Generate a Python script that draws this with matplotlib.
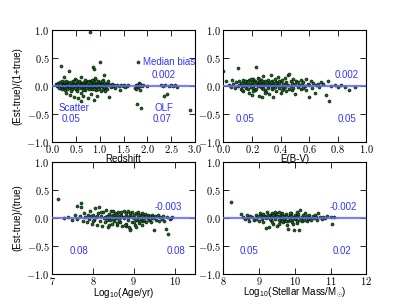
import matplotlib
matplotlib.use("Agg")
import matplotlib.pyplot as plt
from matplotlib.ticker import FuncFormatter, MultipleLocator

plt.rcParams['mathtext.fontset'] = 'cm'
plt.rcParams['font.family'] = ['Liberation Sans', 'DejaVu Sans']

redshift_points = [(0.08,0.03),(0.1,-0.01),(0.12,0.05),(0.13,0.0),(0.15,0.02),(0.16,-0.03),(0.17,0.06),(0.18,0.36),(0.19,0.01),(0.2,-0.05),(0.21,0.04),(0.22,0.0),(0.23,0.07),(0.24,-0.02),(0.25,0.15),(0.26,0.03),(0.27,-0.08),(0.28,0.05),(0.29,0.01),(0.3,-0.12),(0.31,0.04),(0.32,-0.03),(0.33,0.06),(0.34,0.0),(0.35,0.26),(0.36,-0.04),(0.37,0.02),(0.38,-0.16),(0.39,0.05),(0.4,-0.01),(0.41,0.03),(0.42,-0.06),(0.43,0.08),(0.44,0.0),(0.45,-0.2),(0.46,0.04),(0.47,-0.02),(0.48,0.12),(0.49,0.01),(0.5,-0.05),(0.51,0.03),(0.52,-0.09),(0.53,0.05),(0.54,0.0),(0.55,-0.22),(0.56,0.02),(0.57,-0.03),(0.58,0.07),(0.59,0.01),(0.6,-0.27),(0.61,0.16),(0.62,0.03),(0.63,-0.04),(0.64,0.05),(0.65,-0.18),(0.66,0.0),(0.67,0.06),(0.68,-0.02),(0.69,0.04),(0.7,-0.07),(0.71,0.02),(0.72,0.08),(0.73,-0.01),(0.74,0.05),(0.75,-0.22),(0.76,0.03),(0.77,-0.05),(0.78,0.09),(0.79,0.01),(0.8,0.97),(0.81,-0.03),(0.82,0.06),(0.83,0.1),(0.84,-0.06),(0.85,0.33),(0.86,0.04),(0.87,-0.25),(0.88,0.3),(0.89,0.07),(0.9,-0.02),(0.91,0.12),(0.92,0.03),(0.93,-0.08),(0.94,0.05),(0.95,-0.18),(0.96,0.09),(0.97,0.01),(0.98,-0.04),(0.99,0.06),(1.0,0.42),(1.01,0.02),(1.02,-0.1),(1.03,0.07),(1.04,0.0),(1.05,0.04),(1.06,-0.05),(1.07,0.1),(1.08,0.02),(1.1,0.2),(1.11,-0.03),(1.12,0.05),(1.14,0.01),(1.15,-0.06),(1.17,0.03),(1.18,0.08),(1.2,-0.2),(1.21,0.02),(1.23,-0.02),(1.25,0.04),(1.27,0.0),(1.3,0.02),(1.33,-0.03),(1.36,0.01),(1.4,0.0),(1.42,-0.07),(1.45,0.02),(1.48,-0.01),(1.5,0.01),(1.53,-0.02),(1.57,0.0),(1.6,0.01),(1.75,-0.03),(1.76,0.01),(1.77,-0.05),(1.78,-0.33),(1.79,0.02),(1.8,0.42),(1.81,-0.02),(1.82,0.05),(1.83,0.0),(1.84,-0.08),(1.85,0.03),(1.87,-0.39),(1.88,-0.01),(1.9,0.02),(2.0,0.0),(2.28,0.02),(2.33,-0.01),(2.35,-0.18),(2.38,0.02),(2.42,-0.15),(2.45,0.0),(2.5,0.02),(2.53,-0.01),(2.58,0.01),(2.62,-0.02),(2.9,-0.44),
    (0.11,0.02),(0.14,-0.02),(0.18,0.01),(0.21,-0.01),(0.25,0.0),(0.29,-0.03),(0.33,0.02),(0.37,-0.01),(0.41,0.0),(0.45,0.02),(0.49,-0.02),(0.53,0.01),(0.57,0.03),(0.61,-0.01),(0.65,0.02),(0.69,0.0),(0.73,0.03),(0.77,0.0),(0.81,0.02),(0.85,-0.01),(0.89,0.02),(0.93,0.0),(0.97,0.03),(1.01,-0.01),(1.05,0.01),(1.09,-0.02),(1.13,0.0),(1.19,0.01),(0.16,0.04),(0.24,0.06),(0.32,-0.06),(0.4,0.07),(0.48,-0.04),(0.56,0.09),(0.64,-0.08),(0.72,-0.04),(0.8,0.05),(0.88,-0.05),(0.96,-0.06),(1.04,0.08),(1.12,-0.1),(0.2,0.08),(0.5,0.1),(0.7,0.11),(0.9,0.14),(0.3,0.09),(0.6,-0.12),(0.82,-0.14),(0.4,-0.1),(0.95,0.02),(0.55,0.04),(0.35,0.03),(0.15,-0.04),(0.75,0.06)]

ebv_points = [(0.0,0.27),(0.02,0.08),(0.04,0.01),(0.05,-0.02),(0.06,0.1),(0.07,0.03),(0.08,-0.04),(0.09,0.06),(0.1,0.32),(0.1,-0.01),(0.11,0.08),(0.12,-0.06),(0.12,0.04),(0.13,0.0),(0.14,0.1),(0.14,-0.09),(0.15,0.05),(0.16,-0.03),(0.16,0.08),(0.17,0.02),(0.18,-0.12),(0.18,0.11),(0.19,-0.02),(0.2,0.06),(0.2,-0.17),(0.21,0.12),(0.21,0.0),(0.22,-0.08),(0.22,0.09),(0.23,0.33),(0.23,-0.05),(0.24,0.14),(0.24,0.03),(0.25,-0.18),(0.25,0.07),(0.26,-0.02),(0.26,0.1),(0.27,-0.2),(0.27,0.05),(0.28,0.0),(0.28,0.18),(0.29,-0.07),(0.29,0.08),(0.3,0.02),(0.3,-0.11),(0.31,0.11),(0.31,-0.03),(0.32,0.06),(0.32,-0.15),(0.33,0.2),(0.33,0.01),(0.34,-0.06),(0.34,0.09),(0.35,-0.2),(0.35,0.04),(0.36,0.13),(0.36,-0.02),(0.37,0.07),(0.37,-0.09),(0.38,0.02),(0.38,0.15),(0.39,-0.04),(0.39,0.05),(0.4,-0.12),(0.4,0.08),(0.41,0.0),(0.41,0.11),(0.42,-0.06),(0.42,0.04),(0.43,0.14),(0.43,-0.02),(0.44,0.07),(0.44,-0.1),(0.45,0.2),(0.45,0.02),(0.46,0.22),(0.46,-0.05),(0.47,0.09),(0.47,0.0),(0.48,-0.08),(0.48,0.05),(0.49,0.12),(0.49,-0.03),(0.5,0.03),(0.5,-0.14),(0.51,0.08),(0.52,-0.02),(0.52,0.06),(0.53,0.01),(0.54,-0.06),(0.54,0.1),(0.55,0.03),(0.56,-0.04),(0.56,0.07),(0.57,0.0),(0.58,0.13),(0.58,-0.08),(0.59,0.04),(0.6,-0.2),(0.6,0.02),(0.61,0.09),(0.62,-0.03),(0.63,0.05),(0.64,-0.12),(0.65,0.01),(0.66,0.04),(0.67,-0.02),(0.68,0.07),(0.7,0.03),(0.72,-0.17),(0.73,0.08),(0.74,-0.27),(0.75,0.0),(0.78,0.02),(0.8,-0.02),(0.82,0.01),(0.85,-0.02),(0.88,-0.07),(0.92,-0.02),
    (0.11,0.02),(0.13,0.05),(0.15,-0.01),(0.17,0.07),(0.19,0.03),(0.21,-0.04),(0.23,0.06),(0.25,0.01),(0.27,-0.03),(0.29,0.04),(0.31,0.0),(0.33,0.07),(0.35,-0.04),(0.37,0.02),(0.39,0.09),(0.41,-0.07),(0.43,0.03),(0.2,0.01),(0.22,0.04),(0.24,-0.01),(0.26,0.06),(0.28,-0.05),(0.3,0.05),(0.32,0.02),(0.34,-0.01),(0.36,0.05),(0.15,0.09),(0.17,-0.06),(0.19,0.13),(0.13,-0.08),(0.25,0.12),(0.29,-0.13),(0.21,-0.1),(0.27,0.09)]

age_points = [(7.15,0.33),(7.3,0.0),(7.4,0.02),(7.5,-0.04),(7.55,0.05),(7.6,0.22),(7.62,-0.02),(7.68,0.03),(7.7,0.26),(7.72,0.2),(7.75,-0.05),(7.78,0.08),(7.8,0.01),(7.85,-0.08),(7.88,0.06),(7.9,-0.02),(7.92,0.12),(7.95,0.03),(7.98,-0.1),(8.0,0.05),(8.02,-0.04),(8.05,0.18),(8.07,0.02),(8.1,-0.12),(8.12,0.08),(8.15,0.19),(8.17,-0.06),(8.2,0.04),(8.22,-0.15),(8.25,0.1),(8.27,0.0),(8.3,-0.08),(8.32,0.14),(8.35,0.03),(8.37,-0.17),(8.4,0.07),(8.42,-0.03),(8.45,0.12),(8.47,-0.1),(8.5,0.05),(8.52,-0.06),(8.55,0.09),(8.57,0.0),(8.6,-0.13),(8.62,0.11),(8.65,0.03),(8.67,-0.08),(8.7,0.06),(8.72,-0.15),(8.75,0.13),(8.77,0.01),(8.8,-0.1),(8.82,0.08),(8.85,-0.04),(8.87,0.12),(8.9,-0.2),(8.92,0.04),(8.95,-0.07),(8.97,0.1),(9.0,0.0),(9.02,-0.12),(9.05,0.08),(9.07,-0.03),(9.1,0.11),(9.12,-0.09),(9.15,0.05),(9.17,-0.02),(9.2,0.09),(9.22,-0.06),(9.25,0.03),(9.27,0.07),(9.3,-0.08),(9.32,0.02),(9.35,0.06),(9.37,-0.04),(9.4,0.04),(9.42,-0.07),(9.45,0.05),(9.47,0.0),(9.5,-0.22),(9.52,0.03),(9.55,-0.03),(9.6,0.05),(9.62,-0.05),(9.65,0.02),(9.7,-0.02),(9.72,0.03),(9.75,-0.06),(9.8,-0.2),(9.82,0.01),(9.85,-0.28),(9.88,-0.02),(9.92,0.0),(9.95,0.01),
    (8.3,0.02),(8.35,-0.03),(8.4,0.0),(8.45,0.04),(8.5,-0.02),(8.55,0.01),(8.6,0.05),(8.65,-0.04),(8.7,0.02),(8.75,-0.01),(8.8,0.04),(8.85,0.01),(8.9,0.06),(8.95,0.02),(9.0,0.05),(9.05,-0.02),(9.1,0.01),(9.15,-0.05),(9.2,0.03),(9.25,-0.03),(9.3,0.04),(9.35,0.0),(9.4,-0.02),(9.45,0.02),(8.6,-0.09),(8.7,0.1),(8.8,-0.14),(8.9,0.09),(9.0,-0.08),(9.1,0.06),(8.5,0.12),(8.4,-0.12),(8.2,0.1),(8.1,0.04),(8.0,-0.06),(8.88,-0.17),(8.92,-0.22),(8.78,-0.12),(9.05,-0.16),(9.2,-0.12)]

mass_points = [(8.2,0.28),(8.5,0.07),(8.55,0.02),(8.6,-0.02),(8.65,0.05),(8.7,0.0),(8.72,-0.05),(8.75,0.04),(8.8,0.01),(8.85,-0.03),(8.9,0.06),(8.95,0.02),(9.0,-0.06),(9.02,0.09),(9.05,0.03),(9.08,-0.02),(9.1,0.07),(9.12,-0.08),(9.15,0.04),(9.18,0.0),(9.2,-0.18),(9.22,0.1),(9.25,0.02),(9.28,-0.16),(9.3,0.06),(9.32,-0.04),(9.35,0.09),(9.37,0.01),(9.4,-0.1),(9.42,0.05),(9.45,-0.02),(9.47,0.08),(9.5,-0.15),(9.52,0.03),(9.55,0.11),(9.57,-0.05),(9.6,0.06),(9.62,-0.01),(9.65,0.09),(9.67,-0.08),(9.7,0.04),(9.72,-0.03),(9.75,0.07),(9.77,-0.12),(9.8,0.02),(9.82,-0.2),(9.85,0.05),(9.87,-0.04),(9.9,0.08),(9.92,-0.07),(9.95,0.01),(9.97,-0.22),(10.0,0.06),(10.02,-0.02),(10.05,0.04),(10.07,-0.09),(10.1,0.03),(10.12,-0.22),(10.15,0.14),(10.17,0.0),(10.2,-0.06),(10.22,0.05),(10.25,-0.03),(10.28,0.08),(10.3,0.01),(10.33,-0.05),(10.35,0.04),(10.38,-0.02),(10.4,0.06),(10.43,0.0),(10.45,-0.04),(10.5,0.03),(10.53,-0.01),(10.55,0.05),(10.6,0.02),(10.62,-0.03),(10.65,0.09),(10.7,0.01),(10.75,-0.02),(10.8,0.02),(10.85,0.0),(10.9,0.03),(11.0,0.01),(11.05,-0.11),(11.1,0.02),
    (9.25,0.05),(9.3,-0.02),(9.35,0.03),(9.4,0.06),(9.45,0.01),(9.5,0.04),(9.55,-0.03),(9.6,0.02),(9.65,-0.05),(9.7,0.0),(9.75,0.03),(9.8,-0.06),(9.85,0.01),(9.9,0.04),(9.95,-0.02),(10.0,0.0),(10.05,-0.05),(10.1,0.07),(10.15,-0.03),(10.2,0.02),(9.35,-0.08),(9.45,0.1),(9.55,-0.1),(9.65,0.04),(9.75,-0.06),(9.85,0.08),(9.95,-0.1),(10.05,0.1),(9.1,0.02),(9.0,0.03),(8.9,-0.02)]

x_labels = ['Redshift', 'E(B-V)', r'Log$_{\mathregular{10}}$(Age/yr)', r'Log$_{\mathregular{10}}$(Stellar Mass/M$_{\odot}$)']
y_labels = ['(Est-true)/(1+true)', None, '(Est-true)/(true)', None]
x_limits = [(0.0, 3.0), (0.0, 1.0), (7.0, 10.5), (8.0, 12.0)]
x_steps = [0.5, 0.2, 1.0, 1.0]
x_fmt = ['$%.1f$', '$%.1f$', '$%d$', '$%d$']
median_bias = ['0.002', '0.002', '-0.003', '-0.002']
scatter = ['0.05', '0.05', '0.08', '0.05']
olf = ['0.07', '0.05', '0.08', '0.02']
datasets = [redshift_points, ebv_points, age_points, mass_points]

fig, axes = plt.subplots(2, 2, figsize=(4.07, 3.05), dpi=100)
blue = '#3333ff'
for i, ax in enumerate(axes.flat):
    pts = datasets[i]
    xs = [p[0] for p in pts]
    ys = [p[1] for p in pts]
    ax.set_facecolor('none')
    ax.scatter(xs, ys, s=5, c='#1a6b1a', edgecolors='black', linewidths=0.35, zorder=2)
    ax.axhline(0, color='#6666ff', lw=1.6, alpha=0.85, zorder=3)
    ax.set_xlim(*x_limits[i])
    ax.set_ylim(-1.0, 1.0)
    ax.xaxis.set_major_locator(MultipleLocator(x_steps[i]))
    ax.yaxis.set_major_locator(MultipleLocator(0.5))
    f = x_fmt[i]
    ax.xaxis.set_major_formatter(FuncFormatter(lambda v, p, f=f: f % v))
    ax.yaxis.set_major_formatter(FuncFormatter(lambda v, p: '$%.1f$' % v))
    ax.tick_params(direction='in', top=True, right=True, length=4, width=0.6,
                   labelsize=7.5, pad=2)
    ax.tick_params(axis='x', pad=0.5)
    ax.set_xlabel(x_labels[i], fontsize=7, labelpad=-0.5)
    if y_labels[i]:
        ax.set_ylabel(y_labels[i], fontsize=7, labelpad=3)
    tx = ax.transAxes
    if i == 0:
        ax.text(0.82, 0.71, 'Median bias', transform=tx, ha='center', va='center', color=blue, fontsize=7)
        ax.text(0.78, 0.60, median_bias[i], transform=tx, ha='center', va='center', color=blue, fontsize=7)
        ax.text(0.15, 0.30, 'Scatter', transform=tx, ha='center', va='center', color=blue, fontsize=7)
        ax.text(0.13, 0.205, scatter[i], transform=tx, ha='center', va='center', color=blue, fontsize=7)
        ax.text(0.78, 0.30, 'OLF', transform=tx, ha='center', va='center', color=blue, fontsize=7)
        ax.text(0.77, 0.205, olf[i], transform=tx, ha='center', va='center', color=blue, fontsize=7)
    else:
        bx = [0, 0.865, 0.81, 0.84][i]
        sx = [0, 0.15, 0.19, 0.18][i]
        ox = [0, 0.865, 0.87, 0.83][i]
        ax.text(bx, 0.60, median_bias[i], transform=tx, ha='center', va='center', color=blue, fontsize=7)
        ax.text(sx, 0.205, scatter[i], transform=tx, ha='center', va='center', color=blue, fontsize=7)
        ax.text(ox, 0.205, olf[i], transform=tx, ha='center', va='center', color=blue, fontsize=7)

fig.subplots_adjust(left=0.128, right=0.9, top=0.902, bottom=0.102, wspace=0.2, hspace=0.18)
fig.savefig('out.png', dpi=100)
